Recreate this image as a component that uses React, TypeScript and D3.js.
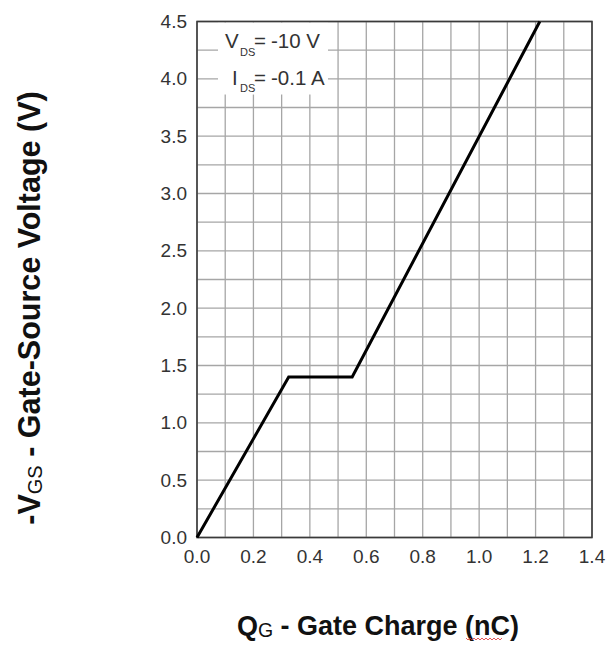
import React from "react";
import * as d3 from "d3";

// Gate charge curve: -VGS vs QG
const chargeNC = [0, 0.325, 0.55, 1.215];
const vgsV = [0, 1.4, 1.4, 4.5];
const xTicks = [0, 0.2, 0.4, 0.6, 0.8, 1.0, 1.2, 1.4];
const yTicks = [0, 0.5, 1.0, 1.5, 2.0, 2.5, 3.0, 3.5, 4.0, 4.5];

const W = 615;
const H = 646;
const left = 197;
const right = 592;
const top = 21.5;
const bottom = 537.5;
const FONT = "'Liberation Sans', Arial, sans-serif";

export default function App() {
  const x = d3.scaleLinear().domain([0, 1.4]).range([left, right]);
  const y = d3.scaleLinear().domain([0, 4.5]).range([bottom, top]);

  const xGrid = d3.range(0, 1.4001, 0.1);
  const yGrid = d3.range(0, 4.5001, 0.25);

  const pts: [number, number][] = chargeNC.map((q, i) => [q, vgsV[i]]);
  const line = d3
    .line<[number, number]>()
    .x((d) => x(d[0]))
    .y((d) => y(d[1]));

  // red wavy underline under "nC"
  const squiggle = d3.range(0, 19).map((i) => [466 + i * 2, i % 2 === 0 ? 638 : 640] as [number, number]);

  return (
    <svg
      width={W}
      height={H}
      style={{ position: "absolute", left: 0, top: 0, background: "#fff" }}
      fontFamily={FONT}
    >
      <rect x={0} y={0} width={W} height={H} fill="#fff" />
      <g stroke="#a6a6a6" strokeWidth={1.3}>
        {xGrid.map((v, i) => (
          <line key={"gx" + i} x1={x(v)} x2={x(v)} y1={top} y2={bottom} />
        ))}
        {yGrid.map((v, i) => (
          <line key={"gy" + i} x1={left} x2={right} y1={y(v)} y2={y(v)} />
        ))}
      </g>
      {/* legend box */}
      <rect x={218} y={top + 1} width={110} height={72} fill="#fff" />
      <g fill="#333" fontSize={20.5}>
        <text x={225} y={48}>V</text>
        <text x={240} y={56} fontSize={11}>DS</text>
        <text x={254} y={48}>=</text>
        <text x={271} y={48}>-10 V</text>
        <text x={232} y={85}>I</text>
        <text x={240} y={92} fontSize={11}>DS</text>
        <text x={254} y={85}>=</text>
        <text x={271} y={85}>-0.1 A</text>
      </g>
      <rect
        x={left}
        y={top}
        width={right - left}
        height={bottom - top}
        fill="none"
        stroke="#3a3a3a"
        strokeWidth={1.6}
      />
      <path d={line(pts) || ""} fill="none" stroke="#000" strokeWidth={3} strokeLinejoin="miter" />
      <g fill="#333" fontSize={19}>
        {yTicks.map((v) => (
          <text key={"yt" + v} x={187} y={y(v)} textAnchor="end" dominantBaseline="central">
            {v.toFixed(1)}
          </text>
        ))}
        {xTicks.map((v) => (
          <text key={"xt" + v} x={x(v)} y={563} textAnchor="middle">
            {v.toFixed(1)}
          </text>
        ))}
      </g>
      <text
        transform="translate(40,308) rotate(-90)"
        textAnchor="middle"
        fontSize={30.5}
        fontWeight="bold"
        fill="#111"
      >
        -V
        <tspan fontSize={20} fontWeight="normal" dy={2}>GS</tspan>
        <tspan dy={-2}> - Gate-Source Voltage (V)</tspan>
      </text>
      <text x={378} y={635} textAnchor="middle" fontSize={27} fontWeight="bold" fill="#111">
        Q
        <tspan fontSize={19.5} fontWeight="normal" dy={2}>G</tspan>
        <tspan dy={-2}> - Gate Charge (nC)</tspan>
      </text>
      <polyline
        points={squiggle.map((p) => p.join(",")).join(" ")}
        fill="none"
        stroke="#e03030"
        strokeWidth={0.8}
      />
    </svg>
  );
}
